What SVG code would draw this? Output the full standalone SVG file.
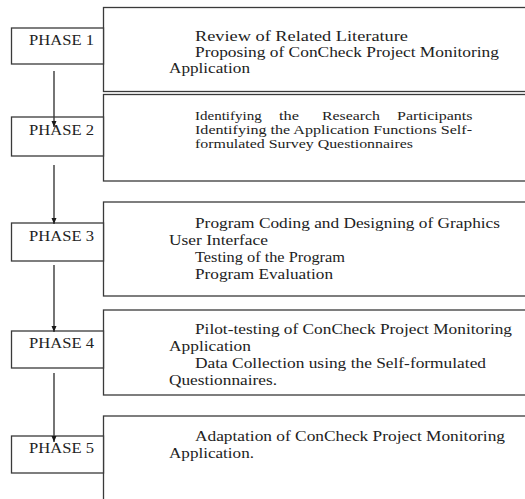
<svg xmlns="http://www.w3.org/2000/svg" width="525" height="499" viewBox="0 0 525 499">
  <style>
    .box { fill: #ffffff; stroke: #3a3a3a; stroke-width: 1.3; }
    .lbl { font-family: "Liberation Serif", "Times New Roman", serif; font-size: 14px; fill: #222222; }
    .sm { font-size: 13px; }
    .flow { stroke: #3a3a3a; stroke-width: 1.4; fill: none; marker-end: url(#head); }
  </style>
  <defs>
    <marker id="head" markerUnits="userSpaceOnUse" markerWidth="7" markerHeight="7" refX="6" refY="3" orient="auto">
      <path d="M0,0.5 L6,3 L0,5.5 z" fill="#1a1a1a"/>
    </marker>
  </defs>

  <rect width="525" height="499" fill="#ffffff"/>

  <!-- activity panels (open to the right edge) -->
  <g id="panel-1">
    <rect class="box" x="103.5" y="7.5" width="430" height="84"/>
    <text class="lbl" x="195" y="40.5" textLength="213" lengthAdjust="spacingAndGlyphs">Review of Related Literature</text>
    <text class="lbl" x="195" y="56.5" textLength="304" lengthAdjust="spacingAndGlyphs">Proposing of ConCheck Project Monitoring</text>
    <text class="lbl" x="169" y="72.5" textLength="81" lengthAdjust="spacingAndGlyphs">Application</text>
  </g>

  <g id="panel-2">
    <rect class="box" x="103.5" y="94.5" width="430" height="86.5"/>
    <text class="lbl sm" x="195" y="120" textLength="66.7" lengthAdjust="spacingAndGlyphs">Identifying</text>
    <text class="lbl sm" x="279" y="120" textLength="20" lengthAdjust="spacingAndGlyphs">the</text>
    <text class="lbl sm" x="322" y="120" textLength="58" lengthAdjust="spacingAndGlyphs">Research</text>
    <text class="lbl sm" x="397" y="120" textLength="75.5" lengthAdjust="spacingAndGlyphs">Participants</text>
    <text class="lbl sm" x="195" y="134" textLength="277" lengthAdjust="spacingAndGlyphs">Identifying the Application Functions Self-</text>
    <text class="lbl sm" x="195" y="148" textLength="218" lengthAdjust="spacingAndGlyphs">formulated Survey Questionnaires</text>
  </g>

  <g id="panel-3">
    <rect class="box" x="103.5" y="202" width="430" height="94"/>
    <text class="lbl" x="195" y="228" textLength="305" lengthAdjust="spacingAndGlyphs">Program Coding and Designing of Graphics</text>
    <text class="lbl" x="169" y="245" textLength="99" lengthAdjust="spacingAndGlyphs">User Interface</text>
    <text class="lbl" x="195" y="262" textLength="150" lengthAdjust="spacingAndGlyphs">Testing of the Program</text>
    <text class="lbl" x="195" y="279" textLength="138" lengthAdjust="spacingAndGlyphs">Program Evaluation</text>
  </g>

  <g id="panel-4">
    <rect class="box" x="103.5" y="310" width="430" height="85"/>
    <text class="lbl" x="195" y="334" textLength="317" lengthAdjust="spacingAndGlyphs">Pilot-testing of ConCheck Project Monitoring</text>
    <text class="lbl" x="169" y="351" textLength="82" lengthAdjust="spacingAndGlyphs">Application</text>
    <text class="lbl" x="195" y="368" textLength="291" lengthAdjust="spacingAndGlyphs">Data Collection using the Self-formulated</text>
    <text class="lbl" x="169" y="385" textLength="108" lengthAdjust="spacingAndGlyphs">Questionnaires.</text>
  </g>

  <g id="panel-5">
    <rect class="box" x="103.5" y="416" width="430" height="100"/>
    <text class="lbl" x="195" y="441" textLength="310" lengthAdjust="spacingAndGlyphs">Adaptation of ConCheck Project Monitoring</text>
    <text class="lbl" x="169" y="458" textLength="85" lengthAdjust="spacingAndGlyphs">Application.</text>
  </g>

  <!-- phase tags -->
  <g id="phase-1">
    <rect class="box" x="11.5" y="28" width="92" height="36"/>
    <text class="lbl" x="29" y="45" textLength="65" lengthAdjust="spacingAndGlyphs">PHASE 1</text>
  </g>
  <g id="phase-2">
    <rect class="box" x="11.5" y="117" width="92" height="39"/>
    <text class="lbl" x="29" y="135" textLength="65" lengthAdjust="spacingAndGlyphs">PHASE 2</text>
  </g>
  <g id="phase-3">
    <rect class="box" x="11.5" y="223" width="92" height="38"/>
    <text class="lbl" x="29" y="241" textLength="65" lengthAdjust="spacingAndGlyphs">PHASE 3</text>
  </g>
  <g id="phase-4">
    <rect class="box" x="11.5" y="331" width="92" height="37"/>
    <text class="lbl" x="29" y="348" textLength="65" lengthAdjust="spacingAndGlyphs">PHASE 4</text>
  </g>
  <g id="phase-5">
    <rect class="box" x="11.5" y="436" width="92" height="37"/>
    <text class="lbl" x="29" y="453" textLength="65" lengthAdjust="spacingAndGlyphs">PHASE 5</text>
  </g>

  <!-- flow arrows between phases -->
  <g id="connectors">
    <line class="flow" x1="54" y1="71" x2="54" y2="127"/>
    <line class="flow" x1="54" y1="165" x2="54" y2="224"/>
    <line class="flow" x1="54" y1="265" x2="54" y2="332"/>
    <line class="flow" x1="54" y1="373" x2="54" y2="442"/>
  </g>
</svg>
